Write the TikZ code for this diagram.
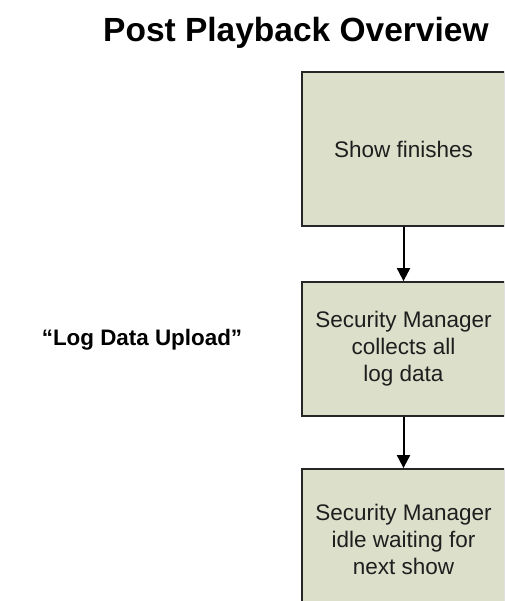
\documentclass[tikz,border=0pt]{standalone}
\usepackage{fontspec}
\setmainfont{Liberation Sans}
\usetikzlibrary{arrows.meta}
\definecolor{boxfill}{RGB}{220,223,202}
\definecolor{boxtext}{RGB}{30,30,30}
\tikzset{
  stepbox/.style={draw=black!85, line width=1.8pt, fill=boxfill, text=boxtext,
    minimum width=203pt, align=center,
    font=\fontsize{22.5}{27}\selectfont},
  flow/.style={draw=black, line width=2pt, -{Triangle[length=13pt,width=13pt]}},
  titletext/.style={font=\fontsize{33.5}{38}\selectfont\bfseries, text=black},
  sidetext/.style={font=\fontsize{22.4}{27}\selectfont\bfseries, text=black}
}
\begin{document}
\begin{tikzpicture}[x=1pt,y=-1pt]
\path[use as bounding box, clip] (0,0) rectangle (504,601);
\fill[white] (0,0) rectangle (504,601);
\node[titletext, anchor=base west, inner sep=0pt] (title) at (103,42) {Post Playback Overview};
\node[stepbox, minimum height=154pt] (show) at (403.5,149) {Show finishes};
\node[stepbox, minimum height=134pt] (collect) at (403.5,349) {Security Manager\\collects all\\log data};
\node[stepbox, minimum height=140pt] (idle) at (403.5,539) {Security Manager\\idle waiting for\\next show};
\node[sidetext, inner sep=0pt] (label) at (142,340) {“Log Data Upload”};
\draw[flow] (show) -- (collect);
\draw[flow] (collect) -- (idle);
\end{tikzpicture}
\end{document}
